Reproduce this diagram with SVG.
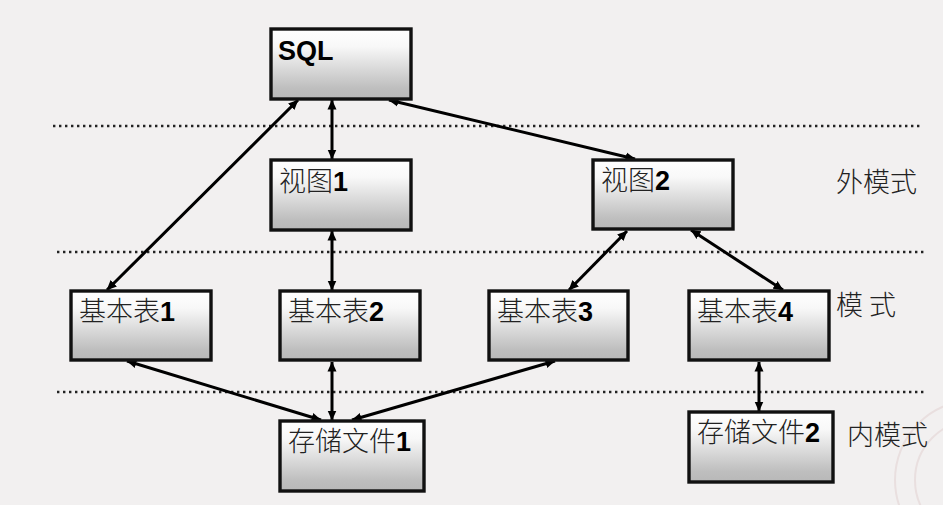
<svg xmlns="http://www.w3.org/2000/svg" width="943" height="505" viewBox="0 0 943 505">
<defs>
<linearGradient id="g" x1="0" y1="0" x2="0" y2="1"><stop offset="0" stop-color="#ffffff"/><stop offset="0.25" stop-color="#f8f8f8"/><stop offset="0.85" stop-color="#bebebe"/><stop offset="1" stop-color="#b8b8b8"/></linearGradient>
<marker id="a" viewBox="0 0 10 10" refX="9.5" refY="5" markerWidth="10" markerHeight="10" markerUnits="userSpaceOnUse" orient="auto-start-reverse"><path d="M0 0.5L10 5L0 9.5z" fill="#000"/></marker>
</defs>
<style>
.b{fill:url(#g);stroke:#111;stroke-width:3.4}
.t{font-family:"Noto Sans CJK SC","Liberation Sans",sans-serif;font-size:27px;font-weight:300;fill:#222}
.n{font-family:"Liberation Sans",sans-serif;font-size:27px;font-weight:700;fill:#000}
.d{stroke:#222;stroke-width:2.4;stroke-dasharray:2.4 3.6;fill:none}
.c{stroke:#000;stroke-width:3;fill:none;marker-start:url(#a);marker-end:url(#a)}
.s{fill:none;stroke:#e9dfdf;stroke-width:2}
</style>
<rect width="943" height="505" fill="#f2f0f0"/>
<g id="seal"><circle class="s" cx="975" cy="480" r="80"/><circle class="s" cx="975" cy="480" r="60"/></g>
<g id="dotted-lines">
<line class="d" x1="53" y1="126" x2="922" y2="126"/>
<line class="d" x1="57" y1="252" x2="925" y2="252"/>
<line class="d" x1="57" y1="392" x2="925" y2="392"/>
</g>
<g id="connectors">
<line class="c" x1="298" y1="100" x2="107" y2="290"/>
<line class="c" x1="332" y1="100" x2="332" y2="159"/>
<line class="c" x1="389" y1="100" x2="635" y2="159"/>
<line class="c" x1="332" y1="231" x2="332" y2="290"/>
<line class="c" x1="627" y1="231" x2="569" y2="290"/>
<line class="c" x1="691" y1="230" x2="783" y2="290"/>
<line class="c" x1="127" y1="361" x2="321" y2="420"/>
<line class="c" x1="332" y1="362" x2="332" y2="420"/>
<line class="c" x1="555" y1="361" x2="352" y2="420"/>
<line class="c" x1="759" y1="362" x2="759" y2="411"/>
</g>
<g id="sql"><rect class="b" x="271" y="29" width="140" height="70"/><text class="n" x="278" y="60">SQL</text></g>
<g id="view1"><rect class="b" x="271" y="160" width="140" height="70"/><text class="t" x="279" y="191">视图<tspan class="n">1</tspan></text></g>
<g id="view2"><rect class="b" x="593" y="160" width="140" height="69"/><text class="t" x="601" y="190">视图<tspan class="n">2</tspan></text></g>
<g id="table1"><rect class="b" x="71" y="291" width="140" height="69"/><text class="t" x="79" y="321">基本表<tspan class="n">1</tspan></text></g>
<g id="table2"><rect class="b" x="280" y="291" width="140" height="69"/><text class="t" x="288" y="321">基本表<tspan class="n">2</tspan></text></g>
<g id="table3"><rect class="b" x="489" y="291" width="139" height="69"/><text class="t" x="497" y="321">基本表<tspan class="n">3</tspan></text></g>
<g id="table4"><rect class="b" x="689" y="291" width="140" height="69"/><text class="t" x="697" y="321">基本表<tspan class="n">4</tspan></text></g>
<g id="file1"><rect class="b" x="280" y="421" width="144" height="70"/><text class="t" x="288" y="451">存储文件<tspan class="n">1</tspan></text></g>
<g id="file2"><rect class="b" x="689" y="412" width="144" height="70"/><text class="t" x="697" y="442">存储文件<tspan class="n">2</tspan></text></g>
<g id="labels">
<text class="t" x="836" y="192">外模式</text>
<text class="t" x="836" y="315">模 式</text>
<text class="t" x="847" y="445">内模式</text>
</g>
</svg>
